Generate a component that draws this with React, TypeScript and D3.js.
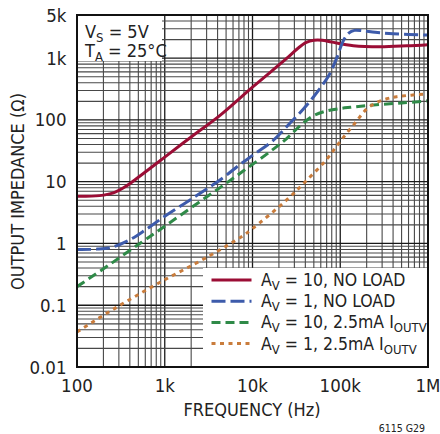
import React from "react";
import * as d3 from "d3";

const W = 440;
const H = 434;

const xTicks = [100, 1000, 10000, 100000, 1000000];
const xTickLabels = ["100", "1k", "10k", "100k", "1M"];
const yTicks = [0.01, 0.1, 1, 10, 100, 1000, 5000];
const yTickLabels = ["0.01", "0.1", "1", "10", "100", "1k", "5k"];

const redF = [100, 180, 260, 350, 500, 700, 1000, 2000, 4300, 10000, 24500, 33000, 41000, 50000, 62000, 80000, 141000, 284000, 572000, 1000000];
const redV = [5.8, 5.95, 6.6, 8.2, 11.8, 17, 25, 53, 120, 340, 990, 1450, 1800, 1950, 1950, 1820, 1590, 1530, 1585, 1655];

const blueF = [100, 170, 250, 400, 600, 1000, 2000, 4500, 7200, 10700, 17000, 27000, 38000, 50000, 62000, 75000, 91000, 108000, 125000, 145000, 180000, 250000, 400000, 1000000];
const blueV = [0.8, 0.81, 0.87, 1.15, 1.65, 2.75, 5.2, 11.3, 19, 28.5, 46, 90, 150, 240, 360, 540, 1000, 1900, 2550, 2820, 2780, 2620, 2480, 2370];

const greenF = [100, 227, 546, 1000, 2000, 4300, 7900, 17000, 24500, 32000, 40000, 50000, 70000, 100000, 130000, 240000, 500000, 1000000];
const greenV = [0.2, 0.44, 1.05, 1.9, 3.8, 8.1, 15, 33, 50, 72, 95, 118, 140, 153, 160, 175, 188, 204];

const orangeF = [100, 270, 845, 3100, 7500, 9800, 24500, 40000, 70000, 100000, 150000, 200000, 260000, 340000, 440000, 1000000];
const orangeV = [0.037, 0.089, 0.227, 0.61, 1.29, 1.7, 5.06, 10, 23, 45, 92, 150, 192, 220, 238, 265];

const seriesNames = ["10, NO LOAD", "1, NO LOAD", "10, 2.5mA I", "1, 2.5mA I"];
const seriesSubs = ["", "", "OUTV", "OUTV"];
const seriesColors = ["#9b0d35", "#3d5bab", "#2f8a48", "#c97c3c"];
const seriesDash = [null, "14 5", "9 5", "4 4.5"];

const FONT = "'Liberation Sans Narrow', 'DejaVu Sans Condensed', 'Arial Narrow', sans-serif";

export default function App() {
  const left = 77, right = 428, top = 15, bottom = 367;
  const x = d3.scaleLog().domain([100, 1e6]).range([left, right]);
  const y = d3.scaleLog().domain([0.01, 5000]).range([bottom, top]);

  const xGrid: number[] = [];
  for (let e = 2; e <= 5; e++) for (let k = 1; k <= 9; k++) xGrid.push(k * Math.pow(10, e));
  xGrid.push(1e6);
  const yGrid: number[] = [];
  for (let e = -2; e <= 3; e++) for (let k = 1; k <= 9; k++) {
    const v = k * Math.pow(10, e);
    if (v <= 5000) yGrid.push(v);
  }

  const line = d3
    .line<[number, number]>()
    .x((d) => x(d[0]))
    .y((d) => y(d[1]))
    .curve(d3.curveCatmullRom.alpha(0.5));

  const series = [
    d3.zip(redF, redV) as [number, number][],
    d3.zip(blueF, blueV) as [number, number][],
    d3.zip(greenF, greenV) as [number, number][],
    d3.zip(orangeF, orangeV) as [number, number][],
  ];

  const isMajor = (v: number) => Math.abs(Math.log10(v) - Math.round(Math.log10(v))) < 1e-9;

  return (
    <svg width={W} height={H} style={{ position: "absolute", left: 0, top: 0, background: "#fff" }} fontFamily={FONT}>
      <defs>
        <clipPath id="plot">
          <rect x={left} y={top} width={right - left} height={bottom - top} />
        </clipPath>
      </defs>
      <rect x={0} y={0} width={W} height={H} fill="#fff" />
      {xGrid.map((v, i) => (
        <line key={"gx" + i} x1={x(v)} x2={x(v)} y1={top} y2={bottom}
          stroke={isMajor(v) ? "#1a1a1a" : "#484848"} strokeWidth={isMajor(v) ? 1.3 : 1.1} />
      ))}
      {yGrid.map((v, i) => (
        <line key={"gy" + i} x1={left} x2={right} y1={y(v)} y2={y(v)}
          stroke={isMajor(v) ? "#1a1a1a" : "#484848"} strokeWidth={isMajor(v) ? 1.3 : 1.1} />
      ))}
      <g clipPath="url(#plot)">
        {series.map((s, i) => (
          <path key={"s" + i} d={line(s) || ""} fill="none" stroke={seriesColors[i]}
            strokeWidth={3} strokeDasharray={seriesDash[i] || undefined} />
        ))}
      </g>
      {/* annotation box */}
      <rect x={left} y={top} width={85} height={46} fill="#fff" />
      <text x={85} y={38} fontSize={18} fill="#222">
        V<tspan fontSize={13} dy={4}>S</tspan><tspan dy={-4}> = 5V</tspan>
      </text>
      <text x={85} y={57} fontSize={18} fill="#222">
        T<tspan fontSize={13} dy={4}>A</tspan><tspan dy={-4}> = 25°C</tspan>
      </text>
      {/* legend */}
      <rect x={203} y={268} width={right - 203} height={bottom - 268} fill="#fff" />
      {seriesNames.map((name, i) => {
        const ly = 280 + i * 21.2;
        return (
          <g key={"lg" + i}>
            <line x1={211.5} x2={251.5} y1={ly} y2={ly} stroke={seriesColors[i]} strokeWidth={3}
              strokeDasharray={seriesDash[i] || undefined} />
            <text x={261} y={ly + 6} fontSize={17.5} fill="#222">
              A<tspan fontSize={13} dy={4}>V</tspan>
              <tspan dy={-4}>{" = " + name}</tspan>
              {seriesSubs[i] ? <tspan fontSize={13} dy={4}>{seriesSubs[i]}</tspan> : null}
            </text>
          </g>
        );
      })}
      {/* frame */}
      <rect x={left} y={top} width={right - left} height={bottom - top} fill="none" stroke="#111" strokeWidth={2} />
      {/* ticks labels */}
      {xTicks.map((v, i) => (
        <text key={"xt" + i} x={x(v)} y={391.5} fontSize={18.5} textAnchor="middle" fill="#222">
          {xTickLabels[i]}
        </text>
      ))}
      {yTicks.map((v, i) => (
        <text key={"yt" + i} x={66.5} y={y(v) + 6.5} fontSize={18.5} textAnchor="end" fill="#222">
          {yTickLabels[i]}
        </text>
      ))}
      <text x={252} y={416} fontSize={18} textAnchor="middle" fill="#222">FREQUENCY (Hz)</text>
      <text transform={`translate(24,191.5) rotate(-90)`} fontSize={18} textAnchor="middle" fill="#222">
        OUTPUT IMPEDANCE (Ω)
      </text>
      <text x={425} y={432} fontSize={10.5} textAnchor="end" fill="#222">6115 G29</text>
    </svg>
  );
}
